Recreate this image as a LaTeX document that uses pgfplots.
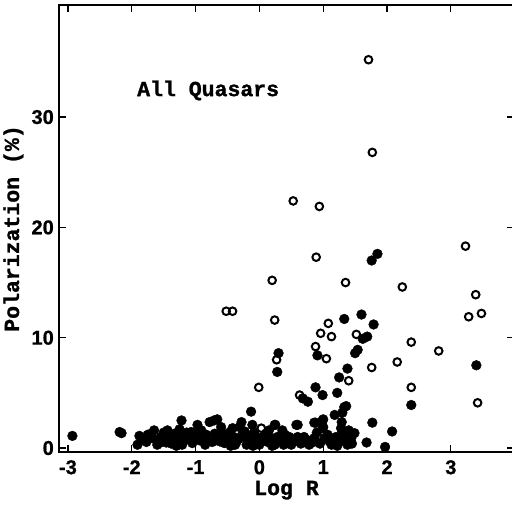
\documentclass[border=0pt]{standalone}
\usepackage{pgfplots}
\pgfplotsset{compat=1.18}
\usepackage{fontspec}
\setmainfont[FakeBold=1.2]{Liberation Mono}
\newfontfamily\tickfont[FakeBold=0.8]{Liberation Sans}
\begin{document}
\begin{tikzpicture}
\begin{axis}[
 scale only axis, width=455pt, height=447pt,
 at={(0,0)}, anchor=south west,
 xmin=-3.14, xmax=3.99, ymin=-0.36, ymax=40.16,
 xtick={-3,-2,-1,0,1,2,3}, ytick={0,10,20,30},
 tick align=inside, major tick length=7pt,
 tick style={line width=1.2pt, black},
 axis line style={line width=1.5pt},
 ticklabel style={font=\tickfont\bfseries\fontsize{20}{24}\selectfont},
 /pgf/number format/assume math mode=true,
 xticklabel style={inner sep=0pt, yshift=-8pt, anchor=north},
 yticklabel style={inner sep=0pt, xshift=-5pt, anchor=east},
 clip=false,
]
% filled circles
\addplot[only marks, mark=*, mark size=4.9pt, mark options={fill=black, draw=black}] coordinates {
(1.85,17.6) (1.76,17.0) (1.33,11.7) (1.60,12.1) (1.79,11.2) (1.62,9.9) (1.69,10.1)
(0.30,8.6) (0.28,6.9) (1.50,8.6) (1.54,8.9) (0.91,8.4) (1.38,7.2) (1.25,6.4)
(0.88,5.5) (0.99,4.8) (1.22,5.0) (0.68,4.5) (0.76,4.2) (2.38,3.9) (3.40,7.5)
(1.36,3.8) (1.30,3.2) (-0.13,3.3) (1.77,2.3) (2.08,1.5) (1.97,0.1) (1.68,0.5)
(1.00,2.6) (1.00,1.9) (0.88,2.3) (0.60,2.1) (0.25,2.1) (1.18,3.0) (1.29,2.35)
(1.30,1.45) (1.49,1.35)
(-2.93,1.1) (-2.19,1.45) (-2.16,1.35) (-1.88,1.1) (-1.91,0.3) (-1.65,1.6)
(-1.68,0.9) (-1.54,1.0) (-1.41,1.2) (-1.46,0.5) (-1.36,0.9) (-1.22,2.5)
(-1.18,1.2) (-1.21,0.3) (-1.07,1.45) (-0.97,2.1) (-0.91,1.6) (-0.94,0.7)
(-0.78,2.35) (-0.66,2.6) (-0.83,1.2) (-0.74,0.55) (-0.60,1.45) (-0.50,0.9)
(-0.42,1.8) (-0.36,0.55) (-0.27,1.2) (-0.31,1.9) (-0.19,0.7) (-0.08,1.45)
(-0.11,2.1) (-0.55,0.45) (-1.05,0.45) (-1.30,0.55) (-1.77,0.55) (-1.44,1.6)
(-1.14,1.4) (-0.71,2.5) (-0.28,2.35) (0.24,2.1) (0.36,1.6) (0.58,2.1)
(0.86,2.3) (0.99,2.5) (0.99,1.8) (1.33,3.7) (-0.03,0.9) (0.13,0.55)
(0.28,1.0) (0.44,0.7) (0.60,1.0) (0.71,0.55) (0.86,0.9) (1.02,0.9)
(1.13,0.3) (1.25,0.55) (1.38,0.3) (1.44,0.9) (0.50,0.3) (0.24,0.3)
(0.00,0.3) (0.78,0.3) (-1.6,0.3) (-1.3,0.2) (-0.85,0.3) (-0.45,0.2)
(-0.2,0.3) (-1.75,1.2) (-1.55,0.5) (-0.65,1.0) (-0.4,1.0) (-1.0,1.0)
(0.1,1.3) (0.4,1.2) (0.9,1.4) (1.2,1.0) (1.4,1.6) (1.1,0.6) (0.65,0.4) (-0.05,0.4)
(-1.82,0.8) (-1.70,1.3) (-1.58,0.8) (-1.50,1.4) (-1.38,0.4) (-1.33,1.3) (-1.25,0.9)
(-1.12,0.8) (-1.02,1.3) (-0.88,1.0) (-0.80,0.6) (-0.70,1.3) (-0.62,0.6) (-0.56,1.2)
(-0.47,1.4) (-0.38,0.3) (-0.33,0.8) (-0.23,1.5) (-0.15,1.0) (-0.10,0.2) (0.05,1.0)
(0.17,0.9) (0.20,0.2) (0.33,0.6) (0.38,0.3) (0.47,1.0) (0.55,0.6) (0.70,1.0)
(0.76,0.7) (0.83,0.5) (0.95,0.4) (1.07,1.2) (1.17,0.7) (1.22,0.2) (1.32,0.8)
(1.45,0.4) (1.36,1.2) (1.28,1.8) (0.15,1.6) (-0.60,1.9) (-1.25,1.7)
};
% open circles
\addplot[only marks, mark=o, mark size=3.8pt, mark options={line width=2pt, draw=black, fill=white}] coordinates {
(1.71,35.2) (1.77,26.8) (0.53,22.4) (0.94,21.9) (0.89,17.3) (3.23,18.3)
(0.20,15.2) (1.35,15.0) (2.24,14.6) (3.39,13.9) (-0.52,12.4) (-0.42,12.4)
(0.24,11.6) (3.28,11.9) (3.48,12.2) (1.08,11.3) (0.96,10.4) (1.13,10.1)
(1.52,10.3) (2.38,9.6) (0.88,9.2) (2.81,8.8) (0.27,8.0) (1.05,8.1)
(2.16,7.8) (1.76,7.3) (1.40,6.1) (2.38,5.5) (-0.01,5.5) (0.63,4.8)
(3.42,4.1) (0.03,1.8)
};
\node[anchor=base west, font=\bfseries\fontsize{21.5}{24}\selectfont] at (axis cs:-1.97,31.9) {All Quasars};
\node[anchor=base, font=\bfseries\fontsize{21.5}{24}\selectfont] at ([yshift=-43pt]rel axis cs:0.5,0) {Log R};
\node[rotate=90, anchor=base, font=\bfseries\fontsize{21.5}{24}\selectfont] at ([xshift=-40pt]rel axis cs:0,0.5) {Polarization (\%)};
\end{axis}
\pgfresetboundingbox
\path (-59pt,-52pt) rectangle (453pt,452pt);
\end{tikzpicture}
\end{document}
